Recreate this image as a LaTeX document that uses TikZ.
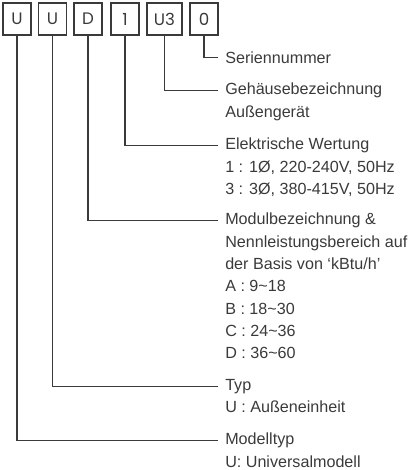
\documentclass[tikz,border=0pt]{standalone}
\usepackage{fontspec}
\setmainfont{Liberation Sans}
\newfontfamily\boxfont{Poppins}
\usepackage{tikz}
\definecolor{ink}{HTML}{3A3A3A}

\begin{document}
\begin{tikzpicture}[x=0.75pt,y=-0.75pt,
  digit/.style={draw=ink,line width=0.8pt,minimum width=21pt,minimum height=24pt,inner sep=0pt,text=ink,font=\boxfont\fontsize{12.5}{13}\selectfont},
  note/.style={anchor=north west,inner sep=0pt,align=left,text=ink,font=\fontsize{12.1}{16.7}\selectfont,
    execute at begin node={\rule{0pt}{10pt}}},
  lead/.style={draw=ink,line width=0.9pt}]
\useasboundingbox (0,0) rectangle (413,470);

% code boxes
\node[digit] (d1) at (17,19) {U};
\node[digit] (d2) at (52.5,19) {U};
\node[digit] (d3) at (88,19) {D};
\node[digit] (d4) at (125,19) {1};
\node[digit,minimum width=26.25pt] (d5) at (164.5,19) {U3};
\node[digit] (d6) at (204,19) {0};

% explanations
\node[note] (serial) at (225,50) {Seriennummer};
\node[note] (housing) at (225,83) {Gehäusebezeichnung\\Außengerät};
\node[note] (power) at (225,138) {Elektrische Wertung\\1 : 1Ø, 220-240V, 50Hz\\3 : 3Ø, 380-415V, 50Hz};
\node[note] (module) at (225,213) {Modulbezeichnung \&\\Nennleistungsbereich auf\\der Basis von ‘kBtu/h’\\A : 9\textasciitilde18\\B : 18\textasciitilde30\\C : 24\textasciitilde36\\D : 36\textasciitilde60};
\node[note] (type) at (225,379) {Typ\\U : Außeneinheit};
\node[note] (model) at (225,433) {Modelltyp\\U: Universalmodell};

% leaders
\draw[lead] (d6.south) |- ([xshift=-5.25pt,yshift=-5.8pt]serial.north west);
\draw[lead] (d5.south) |- ([xshift=-5.25pt,yshift=-5.8pt]housing.north west);
\draw[lead] (d4.south) |- ([xshift=-5.25pt,yshift=-5.8pt]power.north west);
\draw[lead] (d3.south) |- ([xshift=-5.25pt,yshift=-5.8pt]module.north west);
\draw[lead] (d2.south) |- ([xshift=-5.25pt,yshift=-5.8pt]type.north west);
\draw[lead] (d1.south) |- ([xshift=-5.25pt,yshift=-5.8pt]model.north west);
\end{tikzpicture}
\end{document}
